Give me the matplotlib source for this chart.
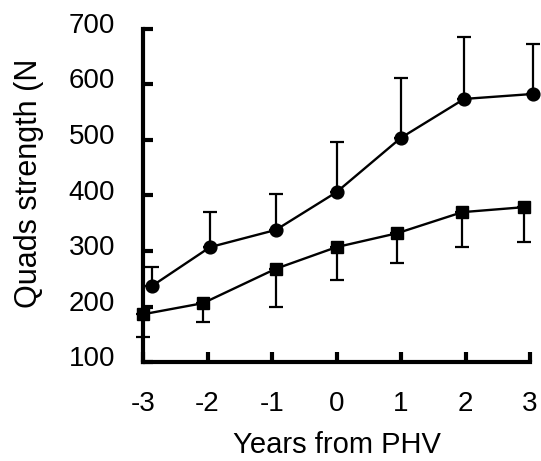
import numpy as np
import matplotlib
matplotlib.use("Agg")
import matplotlib.pyplot as plt
from matplotlib.transforms import ScaledTranslation

plt.rcParams["font.family"] = ["Liberation Sans", "DejaVu Sans"]

# group 1 (circles), SD bars drawn upward
years_circ = [-2.86, -1.96, -0.94, 0.0, 1.0, 1.98, 3.05]
quads_circ = [237, 307, 338, 406, 504, 574, 583]
sd_circ = [34, 63, 65, 90, 108, 112, 90]

# group 2 (squares), SD bars drawn downward
years_sq = [-3.0, -2.07, -0.94, 0.0, 0.94, 1.95, 2.91]
quads_sq = [186, 206, 268, 307, 332, 370, 379]
sd_sq = [41, 34, 69, 59, 54, 63, 63]

xticks = [-3, -2, -1, 0, 1, 2, 3]
yticks = [100, 200, 300, 400, 500, 600, 700]

fig = plt.figure(figsize=(5.41, 4.61), dpi=100)
ax = fig.add_axes([143 / 541, 99 / 461, 387 / 541, 333 / 461])

zeros = np.zeros(len(sd_circ))
ax.errorbar(years_circ, quads_circ, yerr=[zeros, sd_circ], fmt="-o", color="black",
            lw=1.7, ms=9.2, elinewidth=1.6, capsize=4.7, capthick=1.6, clip_on=False)
ax.errorbar(years_sq, quads_sq, yerr=[sd_sq, zeros], fmt="-s", color="black",
            lw=1.7, ms=8.8, elinewidth=1.6, capsize=4.7, capthick=1.6, clip_on=False)

ax.set_xlim(-3, 3)
ax.set_ylim(100, 700)
ax.set_xticks(xticks)
ax.set_yticks(yticks)
ax.set_xticklabels([str(t) for t in xticks])

for side in ["top", "right"]:
    ax.spines[side].set_visible(False)
for side in ["left", "bottom"]:
    ax.spines[side].set_linewidth(3)

ax.tick_params(direction="in", length=7.2, width=3, labelsize=20)
ax.tick_params(axis="y", pad=20)
ax.tick_params(axis="x", pad=21)

# y tick labels sit a little above their ticks
shift = ScaledTranslation(0, 6 / 100, fig.dpi_scale_trans)
for lab in ax.get_yticklabels():
    lab.set_transform(lab.get_transform() + shift)

fig.text(337 / 541, 8 / 461, "Years from PHV", ha="center", va="baseline", fontsize=21)
fig.text(37 / 541, (461 - 308) / 461, "Quads strength (N", rotation=90,
         rotation_mode="anchor", ha="left", va="baseline", fontsize=22)

fig.savefig("out.png", dpi=100)
